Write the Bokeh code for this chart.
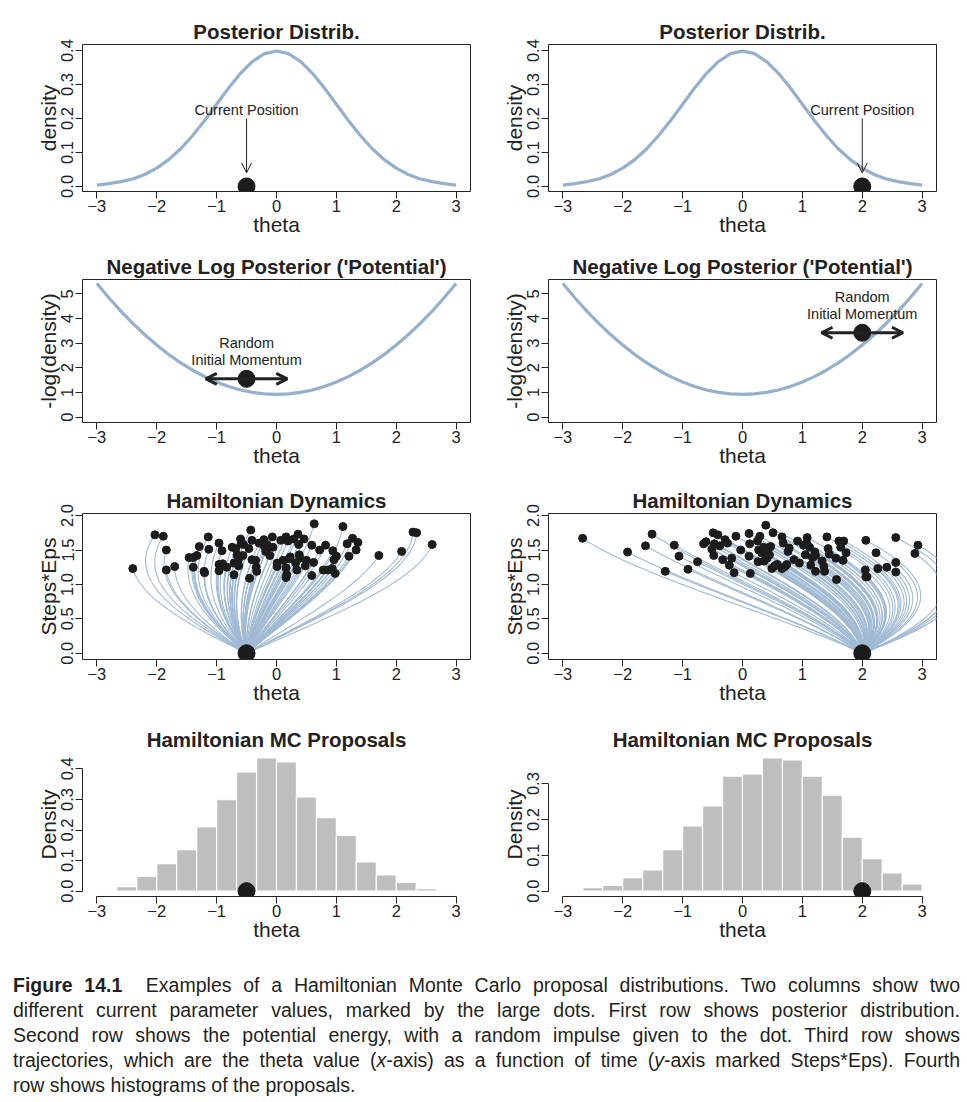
import numpy as np
from bokeh.plotting import figure
from bokeh.layouts import column, row
from bokeh.models import (Arrow, OpenHead, FixedTicker, CustomJSTickFormatter,
                          Div, Range1d)
from bokeh.embed import file_html
from bokeh.resources import INLINE
from bokeh.core.properties import value

FONT = "Liberation Sans"
CURVE = "#94B0CC"
TRAJ = "#A0BAD4"
DOT = "#1c1c1c"
INK = "#222222"

# ---------------- data ----------------
theta_ticks = [-3, -2, -1, 0, 1, 2, 3]
current_pos = [-0.5, 2.0]

curve_theta = [-3.0, -2.8, -2.6, -2.4, -2.2, -2.0, -1.8, -1.6, -1.4, -1.2, -1.0,
               -0.8, -0.6, -0.4, -0.2, 0.0, 0.2, 0.4, 0.6, 0.8, 1.0, 1.2, 1.4,
               1.6, 1.8, 2.0, 2.2, 2.4, 2.6, 2.8, 3.0]
posterior_density = [0.004, 0.008, 0.014, 0.022, 0.035, 0.054, 0.079, 0.111, 0.150,
                     0.194, 0.242, 0.290, 0.333, 0.368, 0.391, 0.399, 0.391, 0.368,
                     0.333, 0.290, 0.242, 0.194, 0.150, 0.111, 0.079, 0.054, 0.035,
                     0.022, 0.014, 0.008, 0.004]
neg_log_density = [5.42, 4.84, 4.30, 3.80, 3.34, 2.92, 2.54, 2.20, 1.90, 1.64, 1.42,
                   1.24, 1.10, 1.00, 0.94, 0.92, 0.94, 1.00, 1.10, 1.24, 1.42, 1.64,
                   1.90, 2.20, 2.54, 2.92, 3.34, 3.80, 4.30, 4.84, 5.42]
momentum_dot_y = [1.55, 3.42]

# trajectory end points (theta, Steps*Eps) -- left column (start -0.5)
end_theta_L = [-2.40, -2.03, -1.89, -1.84, -1.84, -1.70, -1.46, -1.39, -1.39, -1.33,
               -1.29, -1.21, -1.20, -1.14, -1.13, -0.96, -0.96, -0.96, -0.91, -0.90,
               -0.83, -0.74, -0.71, -0.71, -0.68, -0.66, -0.64, -0.63, -0.60, -0.59,
               -0.56, -0.55, -0.46, -0.45, -0.43, -0.41, -0.41, -0.35, -0.34, -0.33,
               -0.29, -0.21, -0.20, -0.18, -0.16, -0.11, -0.07, -0.06, 0.01, 0.01,
               0.07, 0.11, 0.16, 0.16, 0.16, 0.17, 0.19, 0.21, 0.23, 0.29,
               0.32, 0.34, 0.36, 0.37, 0.38, 0.39, 0.46, 0.48, 0.50, 0.59,
               0.59, 0.62, 0.63, 0.72, 0.78, 0.82, 0.86, 0.93, 0.94, 0.96,
               0.98, 1.00, 1.11, 1.18, 1.21, 1.27, 1.33, 1.36, 1.71, 2.09,
               2.28, 2.34, 2.60]
end_time_L = [1.23, 1.72, 1.70, 1.50, 1.21, 1.26, 1.39, 1.25, 1.39, 1.42,
              1.55, 1.19, 1.17, 1.69, 1.51, 1.60, 1.29, 1.20, 1.49, 1.30,
              1.25, 1.54, 1.14, 1.31, 1.52, 1.43, 1.35, 1.27, 1.66, 1.59,
              1.42, 1.58, 1.52, 1.09, 1.79, 1.64, 1.36, 1.35, 1.25, 1.19,
              1.60, 1.65, 1.55, 1.48, 1.58, 1.42, 1.69, 1.54, 1.31, 1.26,
              1.64, 1.35, 1.69, 1.24, 1.10, 1.14, 1.63, 1.37, 1.40, 1.66,
              1.31, 1.21, 1.73, 1.58, 1.43, 1.38, 1.66, 1.27, 1.35, 1.57,
              1.13, 1.32, 1.88, 1.50, 1.21, 1.57, 1.21, 1.23, 1.49, 1.36,
              1.16, 1.41, 1.84, 1.59, 1.41, 1.67, 1.50, 1.61, 1.42, 1.48,
              1.76, 1.75, 1.58]
# right column (start 2.0); the last three end beyond the visible frame
end_theta_R = [-2.67, -1.92, -1.62, -1.51, -1.29, -1.14, -1.06, -0.91, -0.75, -0.65,
               -0.61, -0.51, -0.49, -0.48, -0.47, -0.41, -0.38, -0.33, -0.29, -0.25,
               -0.22, -0.18, -0.14, -0.11, -0.03, 0.11, 0.12, 0.11, 0.13, 0.25,
               0.27, 0.29, 0.26, 0.32, 0.35, 0.36, 0.39, 0.41, 0.43, 0.45,
               0.47, 0.51, 0.49, 0.54, 0.58, 0.66, 0.68, 0.66, 0.71, 0.74,
               0.76, 0.78, 0.86, 0.92, 0.95, 1.02, 1.05, 1.07, 1.08, 1.12,
               1.14, 1.17, 1.21, 1.22, 1.22, 1.33, 1.36, 1.37, 1.41, 1.43,
               1.45, 1.56, 1.57, 1.61, 1.64, 1.68, 1.69, 1.73, 2.06, 2.05,
               2.06, 2.08, 2.23, 2.26, 2.41, 2.56, 2.56, 2.56, 2.88, 2.93,
               3.45, 3.55, 3.40]
end_time_R = [1.67, 1.47, 1.56, 1.73, 1.19, 1.57, 1.41, 1.22, 1.33, 1.59,
              1.62, 1.51, 1.75, 1.42, 1.59, 1.72, 1.56, 1.36, 1.65, 1.60,
              1.28, 1.38, 1.17, 1.70, 1.50, 1.74, 1.59, 1.41, 1.16, 1.63,
              1.50, 1.70, 1.33, 1.46, 1.54, 1.34, 1.86, 1.38, 1.53, 1.43,
              1.55, 1.75, 1.23, 1.27, 1.29, 1.69, 1.60, 1.23, 1.26, 1.29,
              1.48, 1.53, 1.36, 1.63, 1.31, 1.57, 1.43, 1.60, 1.68, 1.54,
              1.28, 1.39, 1.47, 1.19, 1.42, 1.34, 1.26, 1.19, 1.69, 1.52,
              1.44, 1.38, 1.07, 1.63, 1.54, 1.35, 1.63, 1.46, 1.64, 1.21,
              1.11, 1.11, 1.46, 1.23, 1.25, 1.32, 1.18, 1.68, 1.45, 1.57,
              1.00, 1.25, 1.38]

hist_edges = [-3.0, -2.667, -2.333, -2.0, -1.667, -1.333, -1.0, -0.667, -0.333, 0.0,
              0.333, 0.667, 1.0, 1.333, 1.667, 2.0, 2.333, 2.667, 3.0]
hist_density_L = [0.004, 0.015, 0.048, 0.090, 0.136, 0.210, 0.299, 0.390, 0.436,
                  0.423, 0.308, 0.240, 0.182, 0.096, 0.053, 0.029, 0.008, 0.001]
hist_density_R = [0.002, 0.010, 0.016, 0.038, 0.059, 0.116, 0.182, 0.238, 0.321,
                  0.327, 0.372, 0.366, 0.321, 0.268, 0.151, 0.091, 0.051, 0.020]

# ---------------- layout geometry ----------------
ROWS = [  # (border_top, frame_h, border_bottom)
    (44, 147, 54),
    (34, 143, 58),
    (33, 146, 59),
    (34, 144, 59),
]
COLS = [(82, 13, 483), (65, 22, 475)]  # (border_left, border_right, width), frame 388

XFMT = CustomJSTickFormatter(code="return tick < 0 ? '\u2212' + Math.abs(tick) : String(tick);")


def make_fig(r, c, y_range, title, ylab, yticks, ydec, box=True):
    bt, fh, bb = ROWS[r]
    bl, br, w = COLS[c]
    p = figure(width=w, height=bt + fh + bb,
               x_range=Range1d(-3.24, 3.24), y_range=Range1d(*y_range),
               output_backend="svg", toolbar_location=None,
               min_border_left=bl, min_border_right=br,
               min_border_top=bt, min_border_bottom=bb,
               title=title, x_axis_label="theta", y_axis_label=ylab)
    p.title.align = "center"
    p.title.text_font = FONT
    p.title.text_font_size = "20.5px"
    p.title.text_font_style = "bold"
    p.title.text_color = INK
    p.title.standoff = 3
    p.xaxis.ticker = FixedTicker(ticks=theta_ticks)
    p.xaxis.formatter = XFMT
    p.xaxis.bounds = (-3, 3)
    p.yaxis.ticker = FixedTicker(ticks=yticks)
    p.yaxis.formatter = CustomJSTickFormatter(code="return tick.toFixed(%d);" % ydec)
    p.yaxis.bounds = (yticks[0], yticks[-1])
    p.yaxis.major_label_orientation = "vertical"
    for ax in (p.xaxis[0], p.yaxis[0]):
        ax.minor_tick_line_color = None
        ax.major_tick_in = 0
        ax.major_tick_out = 7
        ax.major_label_text_font = FONT
        ax.major_label_text_font_size = "16.5px"
        ax.major_label_text_color = INK
        ax.axis_label_text_font = FONT
        ax.axis_label_text_font_size = "21px"
        ax.axis_label_text_font_style = "normal"
        ax.axis_label_text_color = INK
        ax.axis_line_color = INK
        ax.major_tick_line_color = INK
    p.xaxis.major_label_standoff = 1
    p.yaxis.major_label_standoff = 2
    p.xaxis.axis_label_standoff = -2
    p.yaxis.axis_label_standoff = -1
    p.xgrid.visible = False
    p.ygrid.visible = False
    p.outline_line_color = INK if box else None
    p.outline_line_width = 1
    p.background_fill_color = "white"
    p.border_fill_color = "white"
    return p


def txt(p, x, y, s):
    p.text(x=[x], y=[y], text=[s], text_align="center", text_baseline="middle",
           text_font=value(FONT), text_font_size="14.5px", text_color=INK)


grid = []

# row 1: posterior
r1 = []
for c in range(2):
    p = make_fig(0, c, (-0.015, 0.418), "Posterior Distrib.", "density",
                 [0, 0.1, 0.2, 0.3, 0.4], 1)
    p.line(curve_theta, posterior_density, line_color=CURVE, line_width=3.2)
    x0 = current_pos[c]
    txt(p, x0, 0.225, "Current Position")
    p.add_layout(Arrow(x_start=x0, y_start=0.2, x_end=x0, y_end=0.04,
                       line_color=INK, line_width=1,
                       end=OpenHead(size=10, line_width=1, line_color=INK)))
    p.scatter([x0], [0], size=17, color=DOT)
    r1.append(p)
grid.append(r1)

# row 2: potential
r2 = []
for c in range(2):
    p = make_fig(1, c, (-0.22, 5.58), "Negative Log Posterior ('Potential')",
                 "-log(density)", [0, 1, 2, 3, 4, 5], 0)
    p.line(curve_theta, neg_log_density, line_color=CURVE, line_width=3.2)
    x0 = current_pos[c]
    y0 = momentum_dot_y[c]
    p.add_layout(Arrow(x_start=x0 - 0.68, y_start=y0, x_end=x0 + 0.68, y_end=y0,
                       line_color=INK, line_width=3,
                       start=OpenHead(size=11, line_width=3, line_color=INK),
                       end=OpenHead(size=11, line_width=3, line_color=INK)))
    p.scatter([x0], [y0], size=17, color=DOT)
    txt(p, x0, y0 + 1.47, "Random")
    txt(p, x0, y0 + 0.76, "Initial Momentum")
    r2.append(p)
grid.append(r2)

# row 3: Hamiltonian dynamics (trajectories of U = theta^2/2 through read end points)
r3 = []
for c, (ex, et) in enumerate([(end_theta_L, end_time_L), (end_theta_R, end_time_R)]):
    p = make_fig(2, c, (-0.09, 2.03), "Hamiltonian Dynamics", "Steps*Eps",
                 [0, 0.5, 1.0, 1.5, 2.0], 1)
    x0 = current_pos[c]
    xs, ys = [], []
    for xe, T in zip(ex, et):
        mom = (xe - x0 * np.cos(T)) / np.sin(T)
        t = np.linspace(0, T, 80)
        xs.append(list(x0 * np.cos(t) + mom * np.sin(t)))
        ys.append(list(t))
    p.multi_line(xs, ys, line_color=TRAJ, line_width=1.1)
    p.scatter(ex, et, size=8, color=DOT)
    p.scatter([x0], [0], size=17, color=DOT)
    r3.append(p)
grid.append(r3)

# row 4: histograms
r4 = []
for c, dens in enumerate([hist_density_L, hist_density_R]):
    top = max(dens)
    yt = [0, 0.1, 0.2, 0.3, 0.4] if c == 0 else [0, 0.1, 0.2, 0.3]
    p = make_fig(3, c, (-0.04 * top, 1.04 * top), "Hamiltonian MC Proposals",
                 "Density", yt, 1, box=False)
    p.quad(left=hist_edges[:-1], right=hist_edges[1:], bottom=0, top=dens,
           fill_color="#BDBEBD", line_color="white", line_width=1.2)
    p.scatter([current_pos[c]], [0], size=17, color=DOT)
    r4.append(p)
grid.append(r4)

caption_lines = [
    "<b>Figure 14.1</b>&nbsp; Examples of a Hamiltonian Monte Carlo proposal distributions. Two columns show two",
    "different current parameter values, marked by the large dots. First row shows posterior distribution.",
    "Second row shows the potential energy, with a random impulse given to the dot. Third row shows",
    "trajectories, which are the theta value (<i>x</i>-axis) as a function of time (<i>y</i>-axis marked Steps*Eps). Fourth",
    "row shows histograms of the proposals.",
]
parts = []
for i, ln in enumerate(caption_lines):
    just = "justify" if i < len(caption_lines) - 1 else "left"
    parts.append('<div style="text-align:justify;text-align-last:%s;white-space:nowrap;">%s</div>' % (just, ln))
caption_html = ('<div style="font-family:\'Liberation Sans\';font-size:19.5px;line-height:25px;'
                'color:#231F20;width:947px;margin-left:8px;padding-top:13px;">'
                + "".join(parts) + "</div>")
caption = Div(text=caption_html, width=958, height=140)

layout = column(*[row(*rr, spacing=0) for rr in grid], caption, spacing=0)

with open("out.html", "w", encoding="utf-8") as f:
    f.write(file_html(layout, INLINE))
